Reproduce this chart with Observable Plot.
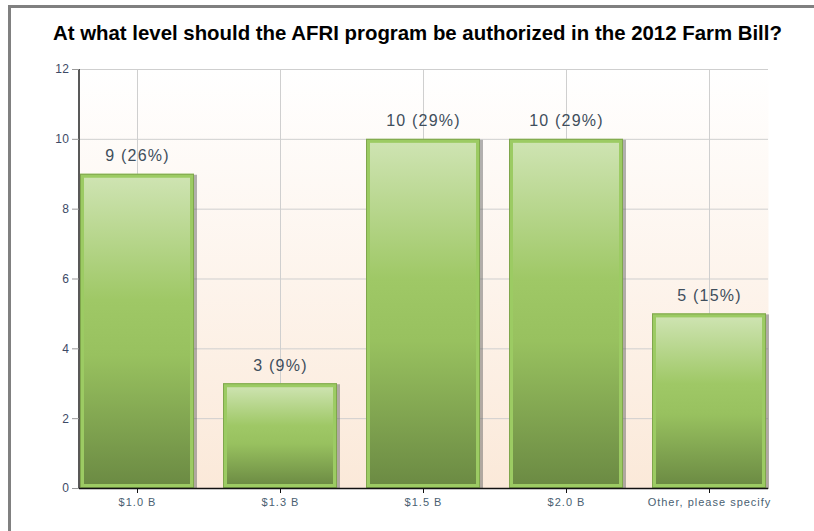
<!DOCTYPE html>
<html>
<head>
<meta charset="utf-8">
<script src="https://cdn.jsdelivr.net/npm/d3@7"></script>
<script src="https://cdn.jsdelivr.net/npm/@observablehq/plot@0.6"></script>
<style>
  html, body { margin: 0; padding: 0; background: #fff; }
  #wrap { position: relative; width: 814px; height: 531px; overflow: hidden; font-family: "Liberation Sans", Arial, sans-serif; }
  .bt { position: absolute; left: 8px; top: 5px; width: 806px; height: 3px; background: #808080; }
  .bl { position: absolute; left: 8px; top: 5px; width: 3px; height: 526px; background: #808080; }
  #title { position: absolute; left: 53px; top: 22px; font-size: 20.4px; font-weight: bold; color: #000; white-space: nowrap; }
  #chart { position: absolute; left: 0; top: 50px; }
  #chart svg g[aria-label="x-axis tick label"] text { letter-spacing: 1px; }
  #chart svg g[aria-label="y-axis tick label"] text { letter-spacing: 0.5px; }
  #chart svg g.datalabels text { letter-spacing: 1.2px; }
</style>
</head>
<body>
<div id="wrap">
  <div class="bt"></div>
  <div class="bl"></div>
  <div id="title">At what level should the AFRI program be authorized in the 2012 Farm Bill?</div>
  <div id="chart"></div>
</div>
<script>
const categories = ["$1.0 B", "$1.3 B", "$1.5 B", "$2.0 B", "Other, please specify"];
const counts = [9, 3, 10, 10, 5];
const percents = [26, 9, 29, 29, 15];
const yTicks = [0, 2, 4, 6, 8, 10, 12];

const data = categories.map((c, i) => ({cat: c, count: counts[i], pct: percents[i]}));

const defsMark = () => {
  const svg = d3.create("svg:g");
  const defs = svg.append("defs");
  const bg = defs.append("linearGradient").attr("id", "bgGrad").attr("x1", 0).attr("y1", 0).attr("x2", 0).attr("y2", 1);
  bg.append("stop").attr("offset", "0%").attr("stop-color", "#ffffff");
  bg.append("stop").attr("offset", "100%").attr("stop-color", "#fbe9d9");
  const bar = defs.append("linearGradient").attr("id", "barGrad").attr("x1", 0).attr("y1", 0).attr("x2", 0).attr("y2", 1);
  bar.append("stop").attr("offset", "0%").attr("stop-color", "#cfe4b3");
  bar.append("stop").attr("offset", "40%").attr("stop-color", "#9fc866");
  bar.append("stop").attr("offset", "58%").attr("stop-color", "#98c15f");
  bar.append("stop").attr("offset", "100%").attr("stop-color", "#6b8a43");
  return svg.node();
};

const yAxisLine = (index, scales, values, dims) => {
  const g = d3.create("svg:line")
    .attr("x1", dims.marginLeft).attr("x2", dims.marginLeft)
    .attr("y1", scales.y(12)).attr("y2", scales.y(0))
    .attr("stroke", "#222").attr("stroke-width", 1.5);
  return g.node();
};

const chart = Plot.plot({
  width: 814,
  height: 481,
  marginTop: 19,
  marginBottom: 43,
  marginLeft: 79,
  marginRight: 46,
  style: {fontFamily: "'Liberation Sans', Arial, sans-serif", background: "transparent"},
  x: {domain: categories, paddingInner: 0.2, paddingOuter: 0, label: null},
  y: {domain: [0, 12], label: null},
  marks: [
    defsMark,
    Plot.frame({fill: "url(#bgGrad)", stroke: "none"}),
    Plot.gridY(yTicks, {stroke: "#cfcfcf", strokeOpacity: 1}),
    Plot.gridX({stroke: "#cfcfcf", strokeOpacity: 1}),
    Plot.barY(data, {x: "cat", y: "count", fill: "#666", fillOpacity: 0.5, dx: 3, dy: 1}),
    Plot.barY(data, {x: "cat", y: "count", fill: "url(#barGrad)", stroke: "#9ccb63", strokeWidth: 4, inset: 2}),
    Plot.barY(data, {x: "cat", y: "count", fill: "none", stroke: "#7fa64c", strokeWidth: 1, inset: 0.5}),
    Plot.text(data, {x: "cat", y: "count", text: d => `${d.count} (${d.pct}%)`, dy: -18, fontSize: 16, fill: "#3f4e5c", className: "datalabels"}),
    Plot.ruleY([0], {stroke: "#111", strokeWidth: 1.5}),
    yAxisLine,
    Plot.axisY(yTicks, {tickSize: 7, tickPadding: 3, stroke: "#999", fill: "#3d4a66", fontSize: 12, label: null}),
    Plot.axisX({tickSize: 5, tickPadding: 5, stroke: "#111", fill: "#4a5f72", fontSize: 11, label: null})
  ]
});
document.getElementById("chart").appendChild(chart);
</script>
</body>
</html>
